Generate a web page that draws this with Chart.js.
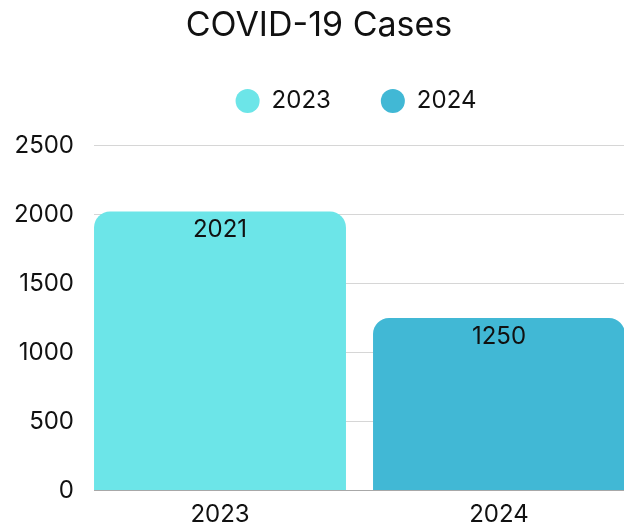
<!DOCTYPE html>
<html>
<head>
<meta charset="utf-8">
<script src="https://cdn.jsdelivr.net/npm/chart.js@4"></script>
<style>
  html, body { margin: 0; padding: 0; background: #fff; overflow: hidden; }
  #wrap { width: 624px; height: 525px; position: relative; }
</style>
</head>
<body>
<div id="wrap"><canvas id="c"></canvas></div>
<script>
// ---- data ----
const years = ['2023', '2024'];
const cases = [2021, 1250];
const yTicks = [0, 500, 1000, 1500, 2000, 2500];
const titleText = 'COVID-19 Cases';

// ---- styles ----
const barColors = ['#6ce5e8', '#41b8d5'];
const FONT = "Inter, 'Noto Sans', sans-serif";
const TEXT = '#111111';

const datasets = years.map((yr, i) => ({
  label: yr,
  data: [{ x: i, y: cases[i] }],
  backgroundColor: barColors[i],
  borderWidth: 0,
  borderRadius: { topLeft: 16, topRight: 16, bottomLeft: 0, bottomRight: 0 },
  borderSkipped: 'start',
  grouped: false,
  barPercentage: 1,
  categoryPercentage: 0.903
}));

const valueLabels = {
  id: 'valueLabels',
  afterDatasetsDraw(chart) {
    const ctx = chart.ctx;
    ctx.save();
    ctx.font = '24px ' + FONT;
    ctx.fillStyle = TEXT;
    ctx.textAlign = 'center';
    ctx.textBaseline = 'alphabetic';
    chart.data.datasets.forEach((ds, i) => {
      const meta = chart.getDatasetMeta(i);
      meta.data.forEach((el, j) => {
        ctx.fillText(String(ds.data[j].y), el.x, el.y + 26);
      });
    });
    ctx.restore();
  }
};

const nudge = {
  id: 'nudge',
  afterLayout(chart) {
    const lg = chart.legend;
    if (lg) { lg.left += 44; lg.right += 44; lg.top -= 22.3; lg.bottom -= 22.3; }
    const t = chart.titleBlock;
    if (t) { t.left += 7; t.right += 7; }
  }
};

new Chart(document.getElementById('c'), {
  type: 'bar',
  data: { datasets },
  plugins: [valueLabels, nudge],
  options: {
    responsive: true,
    maintainAspectRatio: false,
    animation: false,
    layout: { padding: 0 },
    plugins: {
      title: {
        display: true,
        text: titleText,
        color: TEXT,
        font: { family: FONT, size: 34, weight: 'normal', lineHeight: 1.2 },
        padding: { top: 5, bottom: 15.5 }
      },
      legend: {
        display: true,
        position: 'top',
        labels: {
          usePointStyle: true,
          pointStyle: 'circle',
          boxHeight: 17,
          boxWidth: 24,
          padding: 50,
          color: TEXT,
          font: { family: FONT, size: 24 }
        }
      },
      tooltip: { enabled: false }
    },
    scales: {
      x: {
        type: 'linear',
        offset: false,
        min: -0.4516,
        max: 1.448,
        grid: { display: false, drawTicks: false, offset: false },
        border: { display: false },
        afterBuildTicks: (s) => { s.ticks = years.map((_, i) => ({ value: i })); },
        afterFit: (s) => { s.height = 32.7; },
        ticks: {
          color: TEXT,
          padding: 10,
          maxRotation: 0,
          autoSkip: false,
          font: { family: FONT, size: 24 },
          callback: (v) => years[v]
        }
      },
      y: {
        min: 0,
        max: 2500,
        grid: {
          drawTicks: false,
          color: (c) => (c.tick && c.tick.value === 0 ? '#a8a8a8' : '#d6d6d6'),
          lineWidth: 1
        },
        border: { display: false },
        afterBuildTicks: (s) => { s.ticks = yTicks.map(v => ({ value: v })); },
        afterFit: (s) => { s.width = 94; },
        ticks: {
          color: TEXT,
          padding: 20,
          font: { family: FONT, size: 24 },
          callback: (v) => String(v)
        }
      }
    }
  }
});
</script>
</body>
</html>
